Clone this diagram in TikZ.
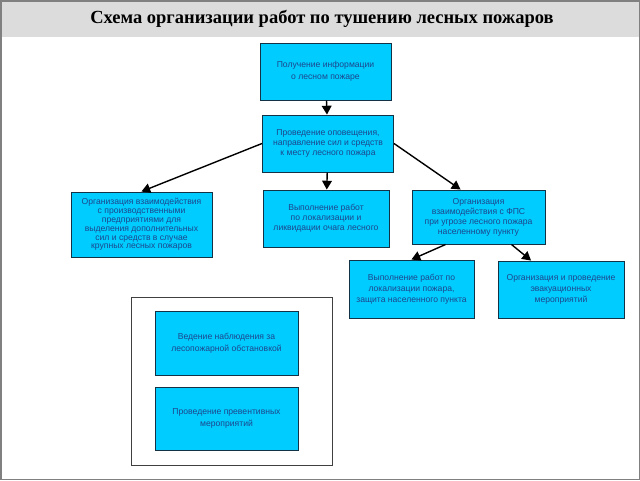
\documentclass[tikz,border=0pt]{standalone}
\usepackage{fontspec}
\setmainfont{Liberation Serif}
\setsansfont{Liberation Sans}
\usetikzlibrary{arrows}
\definecolor{boxfill}{RGB}{0,204,255}
\definecolor{boxdraw}{RGB}{20,50,70}
\definecolor{boxtext}{RGB}{30,70,140}
\definecolor{titlegray}{RGB}{220,220,220}
\tikzset{
  work/.style={shape=rectangle,draw=boxdraw,fill=boxfill,line width=1pt,
    text=boxtext,align=center,inner sep=0pt,
    font=\sffamily\fontsize{8.6}{10}\selectfont},
}

\begin{document}
\begin{tikzpicture}[x=1pt,y=-1pt,>=triangle 60]
    % page and title band
    \fill[white] (0,0) rectangle (640,480);
    \fill[titlegray] (0,0) rectangle (640,37);
    \draw[gray,line width=1.5pt] (0.75,0.75) rectangle (639.25,479.25);
    \node (title) at (322,19) {\bfseries\fontsize{18.5}{20}\selectfont Схема организации работ по тушению лесных пожаров};
    % frame round the preventive work
    \draw[black!75,line width=1pt] (131,297) rectangle (332,465);
    \node[work,minimum width=131pt,minimum height=57pt,font=\sffamily\fontsize{8.6}{11.5}\selectfont] (info) at (325.5,71.5) {Получение информации\\о лесном пожаре};
    \node[work,minimum width=131pt,minimum height=57pt] (alert) at (328,143.5) {Проведение оповещения,\\направление сил и средств\\к месту лесного пожара};
    \node[work,minimum width=141pt,minimum height=65pt,font=\sffamily\fontsize{8.6}{8.8}\selectfont] (help) at (141.5,224.5) {Организация взаимодействия\\с производственными\\предприятиями для\\выделения дополнительных\\сил и средств в случае\\крупных лесных пожаров};
    \node[work,minimum width=126pt,minimum height=57pt] (local) at (326,218.5) {Выполнение работ\\по локализации и\\ликвидации очага  лесного};
    \node[work,minimum width=133pt,minimum height=54pt] (fps) at (478.5,217) {Организация\\взаимодействия с ФПС\\при угрозе лесного пожара\\населенному пункту};
    \node[work,minimum width=125pt,minimum height=58pt,font=\sffamily\fontsize{8.6}{11}\selectfont] (defend) at (411.5,289) {Выполнение работ по\\локализации пожара,\\защита населенного пункта};
    \node[work,minimum width=126pt,minimum height=57pt,font=\sffamily\fontsize{8.6}{11}\selectfont] (evac) at (561,289.5) {Организация и проведение\\эвакуационных\\мероприятий};
    \node[work,minimum width=143pt,minimum height=64pt,font=\sffamily\fontsize{8.6}{11.5}\selectfont] (watch) at (226.5,343) {Ведение наблюдения за\\лесопожарной обстановкой};
    \node[work,minimum width=143pt,minimum height=63pt,font=\sffamily\fontsize{8.6}{11.5}\selectfont] (prev) at (226.5,418.5) {Проведение превентивных\\мероприятий};
    \path[->,line width=1.4pt](info) edge node {} (alert);
    \path[->,line width=1.4pt](alert.west) edge node {} (help.north);
    \path[->,line width=1.4pt](alert) edge node {} (local);
    \path[->,line width=1.4pt](alert.east) edge node {} ([xshift=-18pt]fps.north);
    \path[->,line width=1.4pt]([xshift=-33pt]fps.south) edge node {} (defend.north);
    \path[->,line width=1.4pt]([xshift=33pt]fps.south) edge node {} ([xshift=-30pt]evac.north);
\end{tikzpicture}
\end{document}
